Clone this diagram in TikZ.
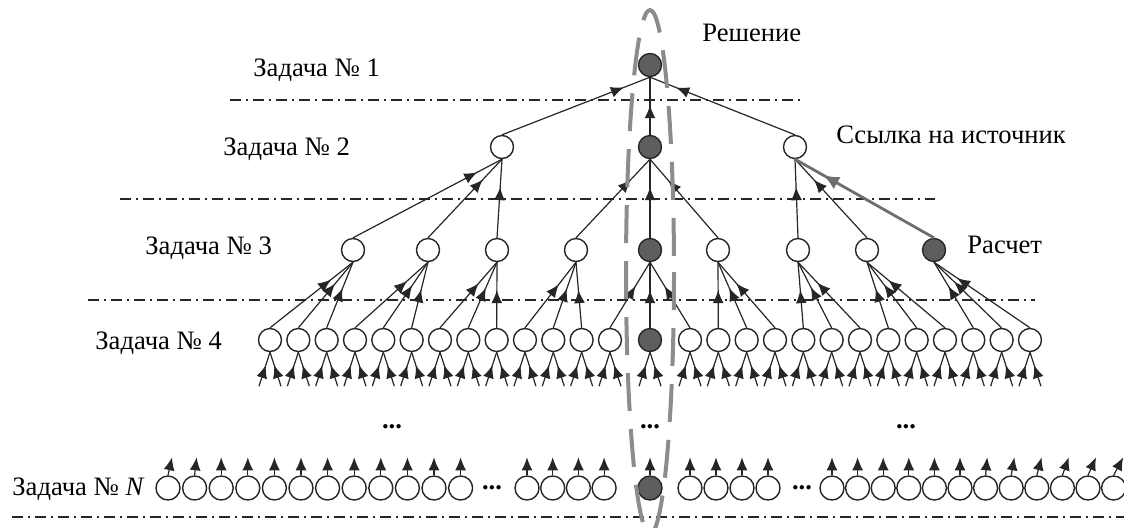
\documentclass[tikz,border=0pt]{standalone}
\usepackage{fontspec}
\setmainfont{Liberation Serif}
\usetikzlibrary{arrows.meta,decorations.markings}
\definecolor{solgray}{HTML}{5E5E5E}
\definecolor{ovalgray}{HTML}{8C8C8C}
\definecolor{refgray}{HTML}{6E6E6E}

\begin{document}
\begin{tikzpicture}[x=0.5pt,y=-0.5pt, every node/.style={font=\fontsize{13.3}{15}\selectfont},
 task/.style={circle,draw=black!85,line width=0.7pt,fill=white,minimum size=11.5pt,inner sep=0pt},
 solved/.style={task,fill=solgray},
 caption/.style={anchor=base west,inner sep=0pt},
 level/.style={draw=black!85,line width=0.6pt,dash pattern=on 5.5pt off 2.5pt on 1pt off 2.5pt},
 link/.style={draw=black!85,line width=0.6pt,postaction={decorate},
   decoration={markings,mark=at position -14pt with {\arrow{Latex[length=6.5pt,width=5.5pt]}}}},
 feed/.style={draw=black!85,line width=0.6pt,postaction={decorate},
   decoration={markings,mark=at position 0.62 with {\arrow{Latex[length=6.5pt,width=5.5pt]}}}},
 source/.style={draw=refgray,line width=1.4pt,postaction={decorate},
   decoration={markings,mark=at position -16pt with {\arrow[refgray]{Latex[length=8pt,width=7pt]}}}},
 rise/.style={draw=black!85,line width=0.6pt,-{Latex[length=6.5pt,width=5.5pt]}},
 oval/.style={draw=ovalgray,line width=2pt,dash pattern=on 19pt off 9pt}]
\useasboundingbox (0,0) rectangle (1124,527);

% separators
\draw[level] (230,100) -- (802,100);
\draw[level] (120,199) -- (935,199);
\draw[level] (88,300) -- (1035,300);
\draw[level] (12,517) -- (1124,517);

% levels 1-3
\node[solved] (z1) at (650,65) {};
\node[task] (z2a) at (502,147) {};
\node[solved] (z2b) at (650,147) {};
\node[task] (z2c) at (795,147) {};
\foreach \p/\x in {a/353,b/428,c/497,d/576,f/718,g/798,h/867}
  \node[task] (z3\p) at (\x,250) {};
\node[solved] (z3e) at (650,250) {};
\node[solved] (z3i) at (934,250) {};

% level 4
\foreach \i in {0,...,12} {
  \node[task] (f\i) at ({270+28.33*\i},340) {};
  \node[task] (g\i) at ({690+28.33*\i},340) {};
}
\node[solved] (z4c) at (650,340) {};
\foreach \n in {z4c} {
  \path (\n.south) ++(-11,34) coordinate (\n-l) ++(22,0) coordinate (\n-r);
  \draw[feed] (\n-l) -- (\n.south); \draw[feed] (\n-r) -- (\n.south);
}
\foreach \s in {f,g}
  \foreach \i in {0,...,12} {
    \path (\s\i.south) ++(-11,34) coordinate (\s\i-l) ++(22,0) coordinate (\s\i-r);
    \draw[feed] (\s\i-l) -- (\s\i.south); \draw[feed] (\s\i-r) -- (\s\i.south);
  }

% edges 4 -> 3
\foreach \p [count=\k from 0] in {a,b,c,d}
  \foreach \j in {0,1,2} {
    \pgfmathtruncatemacro\ci{3*\k+\j}
    \draw[link] (f\ci.north) -- (z3\p.south);
  }
\foreach \p [count=\k from 0] in {f,g,h,i}
  \foreach \j in {0,1,2} {
    \pgfmathtruncatemacro\ci{3*\k+\j+1}
    \draw[link] (g\ci.north) -- (z3\p.south);
  }
\draw[link] (f12.north) -- (z3e.south);
\draw[link] (z4c.north) -- (z3e.south);
\draw[link] (g0.north) -- (z3e.south);

% edges 3 -> 2 -> 1
\foreach \p in {a,b,c} \draw[link] (z3\p.north) -- (z2a.south);
\foreach \p in {d,e,f} \draw[link] (z3\p.north) -- (z2b.south);
\foreach \p in {g,h} \draw[link] (z3\p.north) -- (z2c.south);
\draw[source] (z3i.north) -- (z2c.south);
\foreach \p in {a,b,c} \draw[link] (z2\p.north) -- (z1.south);

% level N
\foreach \i in {0,...,11} {
  \node[task,minimum size=12pt] (na\i) at ({168+26.6*\i},488) {};
  \pgfmathsetmacro\dx{max(0,4-2*\i)}
  \path (na\i.north) ++(\dx,-18) coordinate (na\i-up);
  \draw[rise] (na\i.north) -- (na\i-up);
  \node[task,minimum size=12pt] (nd\i) at ({832+25.6*\i},488) {};
  \pgfmathsetmacro\dx{max(0,1.6*(\i-5))}
  \path (nd\i.north) ++(\dx,-18) coordinate (nd\i-up);
  \draw[rise] (nd\i.north) -- (nd\i-up);
}
\foreach \i in {0,...,3} {
  \node[task,minimum size=12pt] (nb\i) at ({527+25.7*\i},488) {};
  \path (nb\i.north) ++(0,-18) coordinate (nb\i-up);
  \draw[rise] (nb\i.north) -- (nb\i-up);
  \node[task,minimum size=12pt] (nc\i) at ({690+26*\i},488) {};
  \path (nc\i.north) ++(0,-18) coordinate (nc\i-up);
  \draw[rise] (nc\i.north) -- (nc\i-up);
}
\node[solved,minimum size=12pt] (zN) at (650,488) {};
\path (zN.north) ++(0,-18) coordinate (zN-up);
\draw[rise] (zN.north) -- (zN-up);

% dots
\node (gap1) at (392,427) {\textbf{...}};
\node (gap2) at (650,427) {\textbf{...}};
\node (gap3) at (906,427) {\textbf{...}};
\node (gap4) at (492,488) {\textbf{...}};
\node (gap5) at (802,488) {\textbf{...}};

% labels
\node[caption] (t1) at (253,76) {Задача № 1};
\node[caption] (t2) at (223,155) {Задача № 2};
\node[caption] (t3) at (145,254) {Задача № 3};
\node[caption] (t4) at (95,349) {Задача № 4};
\node[caption] (tN) at (12,495) {Задача № \textit{N}};
\node[caption] (sol) at (702,41) {Решение};
\node[caption] (srcl) at (836,143) {Ссылка на источник};
\node[caption] (calc) at (967,253) {Расчет};

% solution path
\draw[oval] (650,272) ellipse [x radius=24, y radius=262];
\end{tikzpicture}
\end{document}
